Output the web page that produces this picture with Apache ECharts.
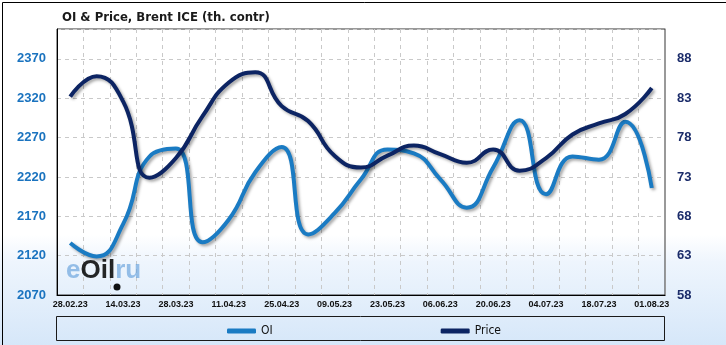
<!DOCTYPE html>
<html>
<head>
<meta charset="utf-8">
<script src="https://cdn.jsdelivr.net/npm/echarts@6/dist/echarts.min.js"></script>
<style>
html,body{margin:0;padding:0;background:#fff;}
#chart{width:726px;height:345px;}
</style>
</head>
<body>
<div id="chart"></div>
<script>
const titleText = 'OI & Price, Brent ICE (th. contr)';
const categories = ['28.02.23','07.03.23','14.03.23','21.03.23','28.03.23','04.04.23','11.04.23','18.04.23','25.04.23','02.05.23','09.05.23','16.05.23','23.05.23','30.05.23','06.06.23','13.06.23','20.06.23','27.06.23','04.07.23','11.07.23','18.07.23','25.07.23','01.08.23'];
const oiValues = [2136, 2119, 2160, 2246, 2256, 2137, 2166, 2226, 2258, 2147, 2174, 2217, 2255, 2250, 2217, 2181, 2232, 2292, 2198, 2246, 2242, 2290, 2206];
const priceValues = [83.2, 85.8, 82.6, 72.9, 75.4, 80.7, 85.0, 86.3, 82.0, 80.1, 75.7, 74.2, 75.7, 77.0, 75.9, 74.8, 76.5, 73.8, 75.4, 78.4, 79.8, 81.0, 84.3];
const leftAxis = {min: 2070, max: 2408, interval: 50};
const rightAxis = {min: 58, max: 91.8, interval: 5};

const chart = echarts.init(document.getElementById('chart'), null, {renderer: 'canvas'});
const shadow = {shadowColor: 'rgba(0,0,0,0.35)', shadowBlur: 3, shadowOffsetX: 2, shadowOffsetY: 2};
chart.setOption({
  animation: false,
  backgroundColor: new echarts.graphic.LinearGradient(0, 0, 0, 1, [
    {offset: 0, color: '#ffffff'},
    {offset: 0.68, color: '#ffffff'},
    {offset: 0.76, color: '#eef5fd'},
    {offset: 1, color: '#d6e7f9'}
  ]),
  title: {
    text: titleText,
    left: 57, top: 6,
    textStyle: {fontFamily: 'DejaVu Sans Condensed', fontWeight: 'bold', fontSize: 13, color: '#1a1a1a'}
  },
  grid: {left: 57, right: 61, top: 29, bottom: 50, show: true, borderColor: '#333', borderWidth: 1},
  legend: {
    left: 222, top: 320, itemGap: 168, itemWidth: 29, itemHeight: 5, icon: 'roundRect',
    textStyle: {fontFamily: 'DejaVu Sans Condensed', fontSize: 12, color: '#111'},
    data: ['OI', 'Price']
  },
  xAxis: {
    type: 'category', data: categories, boundaryGap: true,
    axisLine: {lineStyle: {color: '#000', width: 1}},
    axisTick: {show: false},
    axisLabel: {interval: 1, margin: 5, fontFamily: 'Liberation Sans', fontWeight: 'bold', fontSize: 9, color: '#111'},
    splitLine: {show: true, interval: 0, lineStyle: {color: '#c9c9c9', type: [4, 4]}}
  },
  yAxis: [
    {
      type: 'value', position: 'left', min: leftAxis.min, max: leftAxis.max, interval: leftAxis.interval,
      axisLine: {show: true, lineStyle: {color: '#000'}}, axisTick: {show: false},
      axisLabel: {showMaxLabel: false, margin: 11, formatter: v => String(Math.round(v)), fontFamily: 'Liberation Sans', fontWeight: 'bold', fontSize: 13, color: '#1a73bf'},
      splitLine: {show: true, lineStyle: {color: '#c9c9c9', type: [4, 4]}}
    },
    {
      type: 'value', position: 'right', min: rightAxis.min, max: rightAxis.max, interval: rightAxis.interval,
      axisLine: {show: true, lineStyle: {color: '#999'}}, axisTick: {show: false},
      axisLabel: {showMaxLabel: false, margin: 12, formatter: v => String(Math.round(v)), fontFamily: 'Liberation Sans', fontWeight: 'bold', fontSize: 13, color: '#1b2c6a'},
      splitLine: {show: false}
    }
  ],
  graphic: [
    {type: 'rect', left: 0, top: 0, z: 100, silent: true, shape: {x: 0.5, y: 0.5, width: 725, height: 344}, style: {fill: 'none', stroke: '#000', lineWidth: 1}},
    {type: 'rect', z: 100, silent: true, shape: {x: 56.5, y: 316.5, width: 608, height: 24}, style: {fill: 'none', stroke: '#1a1a1a', lineWidth: 1}},
    {type: 'text', z: 1, silent: true, x: 66, y: 271, style: {
      text: '{b|e}{k|Oil}{b|ru}', verticalAlign: 'middle',
      rich: {
        b: {fontFamily: 'Liberation Sans', fontWeight: 'bold', fontSize: 26, fill: 'rgba(100,160,220,0.65)', color: 'rgba(100,160,220,0.65)'},
        k: {fontFamily: 'Liberation Sans', fontWeight: 'bold', fontSize: 26, fill: 'rgba(0,0,0,0.85)', color: 'rgba(0,0,0,0.85)'}
      }
    }},
    {type: 'circle', z: 1, silent: true, shape: {cx: 117, cy: 287, r: 3.5}, style: {fill: '#111'}}
  ],
  series: [
    {name: 'OI', type: 'line', yAxisIndex: 0, data: oiValues, smooth: 0.5, symbol: 'none', z: 3,
     itemStyle: {color: '#1a7bc3'}, lineStyle: Object.assign({color: '#1a7bc3', width: 4}, shadow)},
    {name: 'Price', type: 'line', yAxisIndex: 1, data: priceValues, smooth: 0.5, symbol: 'none', z: 4,
     itemStyle: {color: '#0c2463'}, lineStyle: Object.assign({color: '#0c2463', width: 4}, shadow)}
  ]
});
</script>
</body>
</html>
